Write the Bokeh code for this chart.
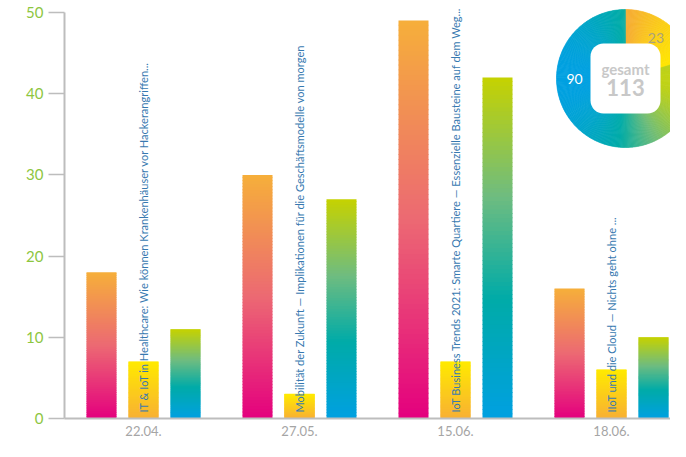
import numpy as np
from bokeh.plotting import figure
from bokeh.models import Range1d, FixedTicker, ColumnDataSource
from bokeh.core.properties import value
from bokeh.embed import file_html
from bokeh.resources import INLINE

# ---------------- data ----------------
dates = ["22.04.", "27.05.", "15.06.", "18.06."]
series_a = [18, 30, 49, 16]      # pink/orange bars
series_b = [7, 3, 7, 6]          # yellow bars
series_c = [11, 27, 42, 10]      # blue/green bars
titles = [
    "IT & IoT in Healthcare: Wie können Krankenhäuser vor Hackerangriffen...",
    "Mobilität der Zukunft  —  Implikationen für die Geschäftsmodelle von morgen",
    "IoT Business Trends 2021: Smarte Quartiere  —  Essenzielle Bausteine auf dem Weg...",
    "IIoT und die Cloud  —  Nichts geht ohne ...",
]
y_ticks = [0, 10, 20, 30, 40, 50]
donut_values = [sum(series_b), sum(series_c)]   # 23, 90
donut_total = sum(series_a)                      # 113
total_caption = "gesamt"

# ---------------- styles ----------------
STOPS_A = [(0.0, (228, 0, 126)), (0.5, (236, 105, 115)), (1.0, (246, 175, 58))]
STOPS_B = [(0.0, (248, 176, 52)), (1.0, (255, 234, 0))]
STOPS_C = [(0.0, (0, 160, 225)), (0.35, (0, 171, 168)), (0.65, (110, 188, 128)), (1.0, (198, 210, 0))]
STOPS_D90 = [(0.0, (0, 160, 225)), (0.45, (0, 171, 168)), (0.72, (110, 188, 120)), (1.0, (192, 210, 20))]
STOPS_D23 = [(0.0, (245, 170, 55)), (1.0, (255, 230, 0))]


def grad(stops, t):
    t = min(max(t, 0.0), 1.0)
    for (p0, c0), (p1, c1) in zip(stops[:-1], stops[1:]):
        if t <= p1:
            f = (t - p0) / (p1 - p0) if p1 > p0 else 0
            return "#%02x%02x%02x" % tuple(int(round(a + (b - a) * f)) for a, b in zip(c0, c1))
    c = stops[-1][1]
    return "#%02x%02x%02x" % c


W, H = 670, 441
FRAME_L, FRAME_B = 64, 23
FIRST_CENTER = 143
PX_PER_CAT = 156.0
x_start = -(FIRST_CENTER - FRAME_L) / PX_PER_CAT
x_end = x_start + (W - FRAME_L) / PX_PER_CAT
TOP50 = 12
FRAME_H = H - FRAME_B
y_px_per_unit = (FRAME_H - TOP50) / 50.0
y_end = 50 + TOP50 / y_px_per_unit

p = figure(width=W, height=H, output_backend="svg", toolbar_location=None,
           x_range=Range1d(x_start, x_end), y_range=Range1d(0, y_end),
           min_border_left=FRAME_L, min_border_right=0, min_border_top=0,
           min_border_bottom=FRAME_B)
p.outline_line_color = None
p.xgrid.visible = False
p.ygrid.visible = False
p.background_fill_color = "white"

# ---------------- gradient bars ----------------
BAR_W = 30 / PX_PER_CAT
OFF = 42 / PX_PER_CAT
N = 80
EPS = 0.8 / y_px_per_unit
L, R, B, T, C = [], [], [], [], []
for series, off, stops in ((series_a, -OFF, STOPS_A), (series_b, 0.0, STOPS_B), (series_c, OFF, STOPS_C)):
    for i, v in enumerate(series):
        for k in range(N):
            L.append(i + off - BAR_W / 2)
            R.append(i + off + BAR_W / 2)
            B.append(v * k / N)
            T.append(v * (k + 1) / N + (EPS if k < N - 1 else 0))
            C.append(grad(stops, (k + 0.5) / N))
src = ColumnDataSource(dict(left=L, right=R, bottom=B, top=T, color=C))
p.quad(left="left", right="right", bottom="bottom", top="top", fill_color="color",
       line_color=None, source=src)

# rotated titles in the yellow bars
p.text(x=list(range(len(titles))), y=[6 / y_px_per_unit] * len(titles), text=titles,
       angle=np.pi / 2, text_align="left", text_baseline="middle",
       text_font=value("Lato"), text_font_size="11.05px", text_color="#3779b0")

# ---------------- axes ----------------
p.xaxis.ticker = FixedTicker(ticks=list(range(len(dates))))
p.xaxis.major_label_overrides = {i: d for i, d in enumerate(dates)}
p.xaxis.major_tick_line_color = None
p.xaxis.minor_tick_line_color = None
p.xaxis.major_tick_out = 0
p.xaxis.major_tick_in = 0
p.xaxis.axis_line_color = "#bdbdbd"
p.xaxis.axis_line_width = 2
p.xaxis.major_label_standoff = 7
p.xaxis.major_label_text_color = "#a5a5a5"
p.xaxis.major_label_text_font = "Lato"
p.xaxis.major_label_text_font_size = "13px"

p.yaxis.ticker = FixedTicker(ticks=y_ticks)
p.yaxis.bounds = (0, 50)
p.yaxis.axis_line_color = "#bdbdbd"
p.yaxis.axis_line_width = 2
p.yaxis.major_tick_line_color = "#bdbdbd"
p.yaxis.major_tick_line_width = 1.5
p.yaxis.major_tick_out = 16
p.yaxis.major_tick_in = 0
p.yaxis.minor_tick_line_color = None
p.yaxis.major_label_standoff = 5
p.yaxis.major_label_text_color = "#8dc63f"
p.yaxis.major_label_text_font = "Lato"
p.yaxis.major_label_text_font_size = "15px"

# ---------------- donut inset ----------------
CX, CY, RAD = 625, 78, 69           # center in canvas px, radius px
p.extra_x_ranges = {"ix": Range1d(FRAME_L - CX, W - CX)}
p.extra_y_ranges = {"iy": Range1d(-(FRAME_H - CY), CY)}

total = sum(donut_values)
a_top = np.pi / 2
a_split = a_top - 2 * np.pi * donut_values[0] / total
segs = [(a_split, a_top, STOPS_D23), (a_top, a_split + 2 * np.pi, STOPS_D90)]
ws, we, wc = [], [], []
for a0, a1, stops in segs:
    n = max(int(np.degrees(a1 - a0)), 4)
    xs = np.cos(np.linspace(a0, a1, 200))
    xmin, xmax = xs.min(), xs.max()
    for k in range(n):
        s = a0 + (a1 - a0) * k / n
        e = a0 + (a1 - a0) * (k + 1) / n
        xm = np.cos((s + e) / 2)
        ws.append(s)
        we.append(e + 0.004)
        wc.append(grad(stops, (xm - xmin) / (xmax - xmin)))
dsrc = ColumnDataSource(dict(x=[0] * len(ws), y=[0] * len(ws), s=ws, e=we, c=wc))
p.wedge(x="x", y="y", radius=RAD, start_angle="s", end_angle="e", fill_color="c",
        line_color="c", line_width=0.5, source=dsrc, x_range_name="ix", y_range_name="iy")

HOLE = 35
p.quad(left=[-HOLE], right=[HOLE], bottom=[-HOLE], top=[HOLE], border_radius=13,
       fill_color="white", line_color=None, x_range_name="ix", y_range_name="iy")

LR = 51
a_mid0 = (a_split + a_top) / 2
p.text(x=[LR * np.cos(a_mid0)], y=[LR * np.sin(a_mid0)], text=[str(donut_values[0])],
       text_align="center", text_baseline="middle", text_font=value("Lato"),
       text_font_size="14px", text_color="#aaa37c", x_range_name="ix", y_range_name="iy")
p.text(x=[-LR], y=[0], text=[str(donut_values[1])],
       text_align="center", text_baseline="middle", text_font=value("Lato"),
       text_font_size="14px", text_color="white", x_range_name="ix", y_range_name="iy")
p.text(x=[0], y=[10], text=[total_caption], text_align="center", text_baseline="middle",
       text_font=value("Lato"), text_font_style="bold", text_font_size="15px",
       text_color="#c8c8c8", x_range_name="ix", y_range_name="iy")
p.text(x=[0], y=[-9], text=[str(donut_total)], text_align="center", text_baseline="middle",
       text_font=value("Lato"), text_font_style="bold", text_font_size="22px",
       text_color="#c8c8c8", x_range_name="ix", y_range_name="iy")

open("out.html", "w").write(file_html(p, INLINE))
